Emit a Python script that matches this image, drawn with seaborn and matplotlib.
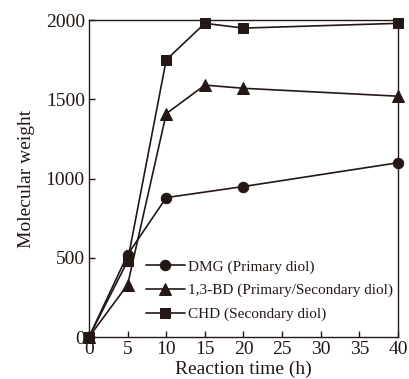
import matplotlib
matplotlib.use("Agg")
import matplotlib.pyplot as plt
import seaborn as sns

# Data
dmg_time = [0, 5, 10, 20, 40]
dmg_mw = [0, 520, 880, 950, 1100]

bd_time = [0, 5, 10, 15, 20, 40]
bd_mw = [0, 330, 1410, 1590, 1570, 1520]

chd_time = [0, 5, 10, 15, 20, 40]
chd_mw = [0, 480, 1750, 1980, 1950, 1980]

labels = ["DMG (Primary diol)", "1,3-BD (Primary/Secondary diol)", "CHD (Secondary diol)"]
x_ticks = [0, 5, 10, 15, 20, 25, 30, 35, 40]
y_ticks = [0, 500, 1000, 1500, 2000]

INK = "#231815"

sns.set_theme(style="ticks")
plt.rcParams["font.family"] = ["Liberation Serif", "DejaVu Serif"]
plt.rcParams["font.size"] = 13

fig = plt.figure(figsize=(4.09, 3.79), dpi=100)
ax = fig.add_axes([0.2176, 0.1108, 0.7555, 0.836])

series = [
    (dmg_time, dmg_mw, "o", 7.5),
    (bd_time, bd_mw, "^", 8),
    (chd_time, chd_mw, "s", 7.5),
]
for (t, mw, mk, ms), lab in zip(series, labels):
    sns.lineplot(x=t, y=mw, ax=ax, color=INK, linewidth=1.2, marker=mk,
                 markersize=ms, markeredgecolor=INK, markerfacecolor=INK,
                 label=lab, clip_on=False, zorder=3)

ax.set_xlim(0, 40)
ax.set_ylim(0, 2000)
ax.set_xticks(x_ticks)
ax.set_yticks(y_ticks)
ax.tick_params(direction="in", length=4, width=1, colors=INK, labelsize=14,
               labelcolor=INK, pad=3)
for side in ["top", "right", "left", "bottom"]:
    ax.spines[side].set_visible(True)
    ax.spines[side].set_color(INK)
    ax.spines[side].set_linewidth(1)

ax.set_xlabel("Reaction time (h)", fontsize=14, color=INK, labelpad=2)
ax.set_ylabel("Molecular weight", fontsize=14, color=INK, labelpad=8)

leg = ax.legend(loc="lower right", bbox_to_anchor=(0.985, 0.05), frameon=False,
                fontsize=11, numpoints=1, handlelength=2.5, handletextpad=0.25,
                labelspacing=0.65, borderpad=0, borderaxespad=0)
for txt in leg.get_texts():
    txt.set_color(INK)

fig.savefig("out.png", dpi=100)
